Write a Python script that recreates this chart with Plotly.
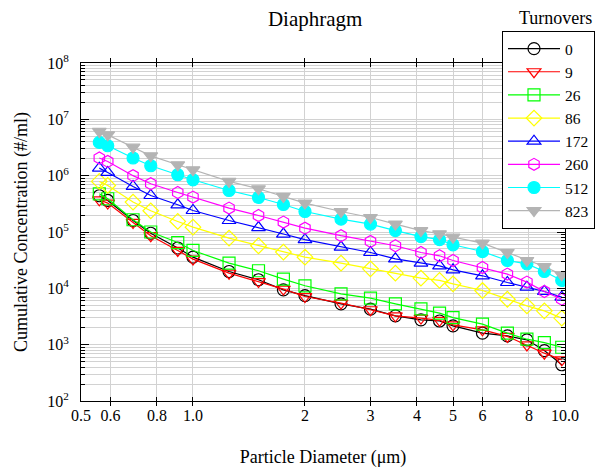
import plotly.graph_objects as go

diameter = [0.56, 0.59, 0.69, 0.77, 0.91, 1.0, 1.25, 1.5, 1.75, 2.0, 2.5, 3.0, 3.5, 4.1, 4.6, 5.0, 6.0, 7.0, 7.9, 8.8, 9.8]

turn_0 = [4.4e5, 3.63e5, 1.6e5, 9.5e4, 5.2e4, 3.58e4, 1.99e4, 1.42e4, 9.4e3, 7.4e3, 5.3e3, 4.27e3, 3.25e3, 2.76e3, 2.63e3, 2.16e3, 1.6e3, 1.43e3, 1.22e3, 7.85e2, 4.4e2]
turn_9 = [3.73e5, 3.26e5, 1.48e5, 8.6e4, 4.7e4, 3.3e4, 1.86e4, 1.32e4, 9.7e3, 7.15e3, 5.46e3, 4.17e3, 3.25e3, 2.96e3, 2.71e3, 2.25e3, 1.83e3, 1.4e3, 9.9e2, 7.06e2, 5.37e2]
turn_26 = [4.77e5, 3.89e5, 1.65e5, 1.0e5, 6.5e4, 4.7e4, 2.8e4, 2.05e4, 1.46e4, 1.11e4, 7.98e3, 6.7e3, 5.3e3, 4.33e3, 3.63e3, 3.03e3, 2.31e3, 1.6e3, 1.25e3, 1.09e3, 9.0e2]
turn_86 = [7.9e5, 6.7e5, 3.4e5, 2.38e5, 1.54e5, 1.22e5, 7.8e4, 5.7e4, 4.4e4, 3.58e4, 2.8e4, 2.22e4, 1.86e4, 1.52e4, 1.38e4, 1.2e4, 9.15e3, 6.4e3, 4.89e3, 3.98e3, 2.96e3]
turn_172 = [1.36e6, 1.14e6, 6.43e5, 4.45e5, 3.04e5, 2.41e5, 1.6e5, 1.2e5, 9.2e4, 7.3e4, 5.4e4, 4.33e4, 3.34e4, 2.8e4, 2.5e4, 2.13e4, 1.67e4, 1.27e4, 1.05e4, 8.8e3, 6.98e3]
turn_260 = [2.06e6, 1.79e6, 1.0e6, 7.2e5, 5.03e5, 4.17e5, 2.66e5, 1.96e5, 1.5e5, 1.17e5, 8.6e4, 6.8e4, 5.7e4, 4.33e4, 3.78e4, 3.12e4, 2.34e4, 1.79e4, 1.29e4, 8.8e3, 6.4e3]
turn_512 = [3.89e6, 3.4e6, 2.06e6, 1.5e6, 1.04e6, 8.45e5, 5.46e5, 4.1e5, 3.08e5, 2.31e5, 1.69e5, 1.38e5, 1.06e5, 8.3e4, 7.3e4, 5.93e4, 4.5e4, 3.12e4, 2.72e4, 1.99e4, 1.38e4]
turn_823 = [6.1e6, 5.3e6, 3.2e6, 2.25e6, 1.56e6, 1.27e6, 7.9e5, 5.85e5, 4.27e5, 3.26e5, 2.31e5, 1.81e5, 1.38e5, 1.06e5, 9.3e4, 8.1e4, 6.35e4, 4.33e4, 3.12e4, 2.44e4, 1.74e4]

series_names = ["0", "9", "26", "86", "172", "260", "512", "823"]
series_values = [turn_0, turn_9, turn_26, turn_86, turn_172, turn_260, turn_512, turn_823]
colors = ["#000000", "#ff0000", "#00ff00", "#ffff00", "#0000ff", "#ff00ff", "#00ffff", "#b4b4b4"]
symbols = ["circle-open", "triangle-down-open", "square-open", "diamond-open",
           "triangle-up-open", "hexagon-open", "circle", "triangle-down"]

x_tickvals = [0.5, 0.6, 0.8, 1.0, 2, 3, 4, 5, 6, 8, 10]
x_ticktext = ["0.5", "0.6", "0.8", "1.0", "2", "3", "4", "5", "6", "8", "10.0"]
y_exponents = [2, 3, 4, 5, 6, 7, 8]

FONT = "'Liberation Serif', 'Times New Roman', serif"

fig = go.Figure()
# dummy trace for the overlay axis carrying the minor ticks / minor grid
fig.add_trace(go.Scatter(x=diameter, y=turn_0, yaxis="y2", mode="lines",
                         line=dict(width=0), opacity=0, showlegend=False, hoverinfo="skip"))

for name, vals, col, sym in zip(series_names, series_values, colors, symbols):
    fig.add_trace(go.Scatter(
        x=diameter, y=vals, name=name, mode="lines+markers",
        line=dict(color=col, width=1.2),
        marker=dict(symbol=sym, size=12, color=col, line=dict(color=col, width=1.2)),
    ))

y_major = [10 ** e for e in y_exponents]
y_major_text = [f"10<sup>{e}</sup>" for e in y_exponents]
y_minor = [m * 10 ** e for e in y_exponents[:-1] for m in range(2, 10)]

fig.update_layout(
    width=612, height=468,
    margin=dict(l=81, r=47, t=63, b=67, autoexpand=False),
    paper_bgcolor="white", plot_bgcolor="white",
    font=dict(family=FONT, color="black", size=16),
    title=dict(text="Diaphragm", x=0.515, xref="container", xanchor="center",
               y=1 - 19 / 468, yref="container", yanchor="middle",
               font=dict(size=21, family=FONT)),
    xaxis=dict(type="log", range=[-0.30103, 1.0], tickvals=x_tickvals, ticktext=x_ticktext,
               showgrid=True, gridcolor="#d2d2d2", gridwidth=1,
               ticks="inside", ticklen=4, tickcolor="black",
               showline=True, linecolor="black", linewidth=1, mirror="allticks",
               tickfont=dict(size=16), zeroline=False, automargin=False,
               title=dict(text="Particle Diameter (μm)", font=dict(size=18), standoff=30)),
    yaxis=dict(type="log", range=[2, 8], tickvals=y_major, ticktext=y_major_text,
               showgrid=True, gridcolor="#d2d2d2", gridwidth=1,
               ticks="inside", ticklen=8, tickcolor="black",
               showline=True, linecolor="black", linewidth=1, mirror="allticks",
               tickfont=dict(size=16), zeroline=False, ticklabelstandoff=8, automargin=False,
               title=dict(text="Cumulative Concentration (#/ml)", font=dict(size=18), standoff=14)),
    yaxis2=dict(type="log", range=[2, 8], overlaying="y", side="left",
                tickvals=y_minor, showticklabels=False,
                showgrid=True, gridcolor="#d2d2d2", gridwidth=1,
                zeroline=False, ticks="inside", ticklen=4, tickcolor="black",
                showline=True, linecolor="black", mirror="allticks", automargin=False),
    legend=dict(x=(502 - 81) / 484, xanchor="left", y=(401 - 31) / 338, yanchor="top",
                bgcolor="white", bordercolor="black", borderwidth=1,
                font=dict(size=15.5, family=FONT), itemwidth=52,
                tracegroupgap=0),
    showlegend=True,
)

fig.add_annotation(text="Turnovers", xref="paper", yref="paper",
                   x=(555 - 81) / 484, y=(401 - 18) / 338, xanchor="center", yanchor="middle",
                   showarrow=False, font=dict(size=18, family=FONT))

fig.write_html("out.html")
